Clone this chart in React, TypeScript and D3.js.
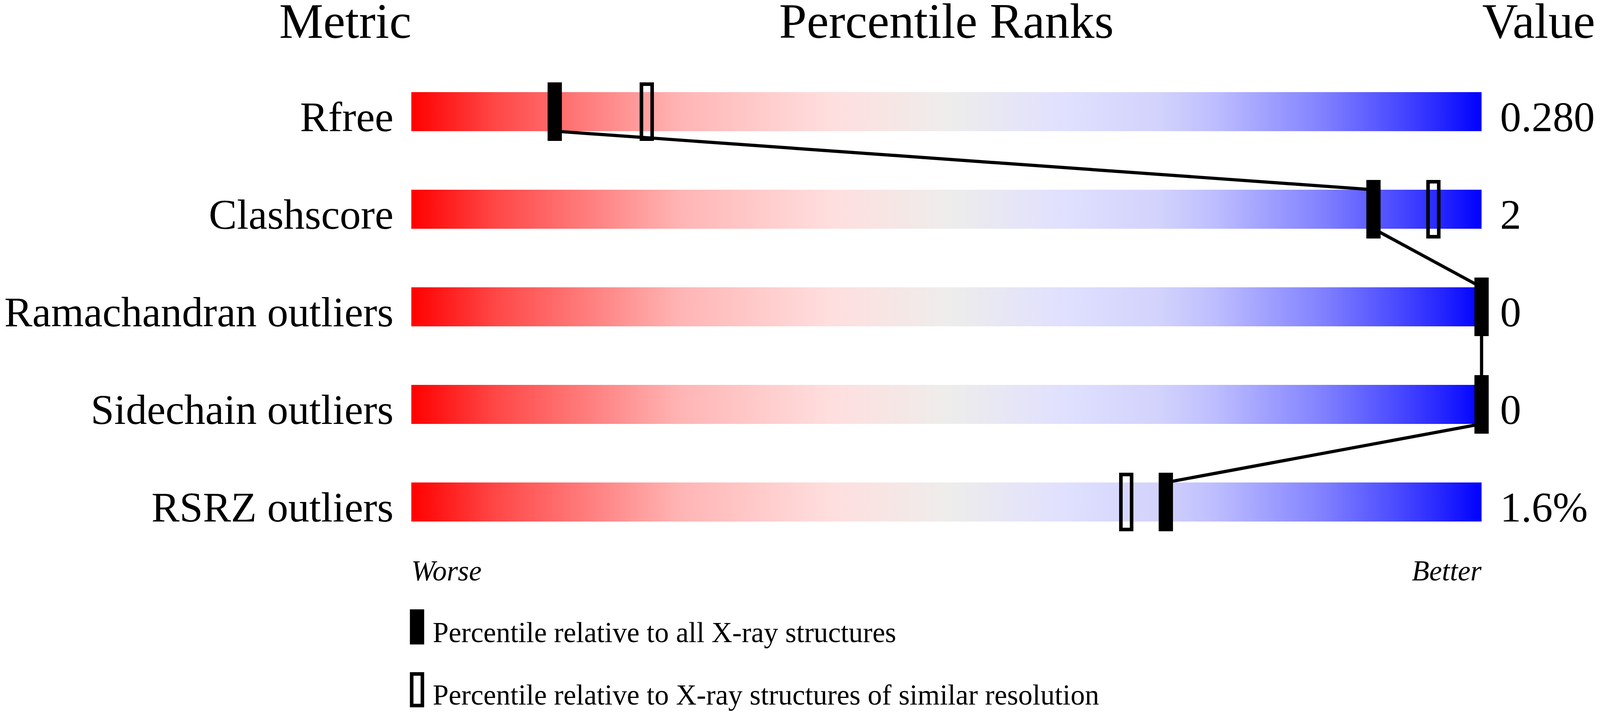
import React, { useEffect, useState } from "react";
import * as d3 from "d3";

// percentile slider data
const metrics: string[] = ["Rfree", "Clashscore", "Ramachandran outliers", "Sidechain outliers", "RSRZ outliers"];
const values: string[] = ["0.280", "2", "0", "0", "1.6%"];
const absolutePct: number[] = [13.4, 89.9, 100, 100, 70.5];
const relativePct: (number | null)[] = [22, 95.5, null, null, 66.8];

const legendItems: string[] = [
  "Percentile relative to all X-ray structures",
  "Percentile relative to X-ray structures of similar resolution",
];

const gradientStops: [number, string][] = [
  [0, "rgb(255,0,0)"],
  [0.08, "rgb(255,72,72)"],
  [0.18, "rgb(255,135,135)"],
  [0.25, "rgb(255,180,180)"],
  [0.39, "rgb(255,222,222)"],
  [0.5, "rgb(238,237,235)"],
  [0.61, "rgb(224,224,255)"],
  [0.7, "rgb(210,210,252)"],
  [0.75, "rgb(190,190,255)"],
  [0.85, "rgb(130,130,255)"],
  [0.92, "rgb(75,75,255)"],
  [0.96, "rgb(40,40,255)"],
  [1, "rgb(0,0,255)"],
];

// reference frame the layout was measured in
const W = 4485;
const H = 1824;
const FONT = "'Liberation Serif', 'Times New Roman', serif";

const viewport = () => ({
  w: document.documentElement.clientWidth || window.innerWidth,
  h: document.documentElement.clientHeight || window.innerHeight,
});

const App: React.FC = () => {
  document.body.style.margin = "0";
  document.body.style.overflow = "hidden";
  const [size, setSize] = useState(viewport());

  useEffect(() => {
    const onResize = () => setSize(viewport());
    window.addEventListener("resize", onResize);
    onResize();
    return () => window.removeEventListener("resize", onResize);
  }, []);

  const sx = size.w / W;
  const sy = size.h / H;
  const fs = Math.min(sx, sy);

  const x = d3.scaleLinear().domain([0, 100]).range([1153 * sx, 4153 * sx]);
  const y = d3.scalePoint<string>().domain(metrics).range([286 * sy, 1286 * sy]);
  const barH = 100 * sy;
  const markH = 150 * sy;
  const markW = 40 * sx;
  const sw = 10 * fs;

  // connector: bottom of one marker to top of the next
  const pts: [number, number][] = [];
  metrics.forEach((m, i) => {
    const cx = x(absolutePct[i]);
    const cy = y(m) ?? 0;
    if (i > 0) pts.push([cx, cy - barH / 2]);
    if (i < metrics.length - 1) pts.push([cx, cy + barH / 2]);
  });
  const segs: [number, number][][] = [];
  for (let i = 0; i < pts.length; i += 2) segs.push([pts[i], pts[i + 1]]);
  const line = d3.line<[number, number]>();

  return (
    <svg width={size.w} height={size.h}
      style={{ position: "absolute", left: 0, top: 0, background: "#fff" }}
      fontFamily={FONT}>
      <defs>
        <linearGradient id="slider" x1="0" x2="1" y1="0" y2="0">
          {gradientStops.map(([o, c]) => (
            <stop key={o} offset={o} stopColor={c} />
          ))}
        </linearGradient>
      </defs>

      <g fontSize={139 * fs}>
        <text x={x(0)} y={97 * sy} textAnchor="end">Metric</text>
        <text x={(x(0) + x(100)) / 2} y={97 * sy} textAnchor="middle">Percentile Ranks</text>
        <text x={x(100) + 2 * sx} y={97 * sy}>Value</text>
      </g>

      {metrics.map((m) => (
        <rect key={"bar" + m} x={x(0)} y={(y(m) ?? 0) - barH / 2} width={x(100) - x(0)} height={barH}
          fill="url(#slider)" />
      ))}

      {metrics.map((m, i) => (
        <g key={"lab" + m} fontSize={118 * fs}>
          <text x={x(0) - 50 * sx} y={(y(m) ?? 0) + barH / 2} textAnchor="end">{m}</text>
          <text x={x(100) + 52 * sx} y={(y(m) ?? 0) + barH / 2}>{values[i]}</text>
        </g>
      ))}

      {segs.map((s, i) => (
        <path key={"seg" + i} d={line(s) ?? ""} stroke="#000" strokeWidth={9 * fs} fill="none" />
      ))}

      {metrics.map((m, i) => {
        const cy = y(m) ?? 0;
        const r = relativePct[i];
        return (
          <g key={"mk" + m}>
            {r !== null && (
              <rect x={x(r) - markW / 2 + sw / 2} y={cy - markH / 2 + sw / 2} width={markW - sw}
                height={markH - sw} fill="none" stroke="#000" strokeWidth={sw} />
            )}
            <rect x={x(absolutePct[i]) - markW / 2} y={cy - markH / 2} width={markW} height={markH} fill="#000" />
          </g>
        );
      })}

      <g fontSize={80 * fs} fontStyle="italic">
        <text x={x(0)} y={1487 * sy}>Worse</text>
        <text x={x(100)} y={1487 * sy} textAnchor="end">Better</text>
      </g>

      <g fontSize={80 * fs}>
        <rect x={1149 * sx} y={1561 * sy} width={40 * sx} height={90 * sy} fill="#000" />
        <text x={1213 * sx} y={1645 * sy}>{legendItems[0]}</text>
        <rect x={1149 * sx + sw / 2} y={1722 * sy + sw / 2} width={40 * sx - sw} height={90 * sy - sw}
          fill="none" stroke="#000" strokeWidth={sw} />
        <text x={1213 * sx} y={1805 * sy}>{legendItems[1]}</text>
      </g>
    </svg>
  );
};

export default App;
